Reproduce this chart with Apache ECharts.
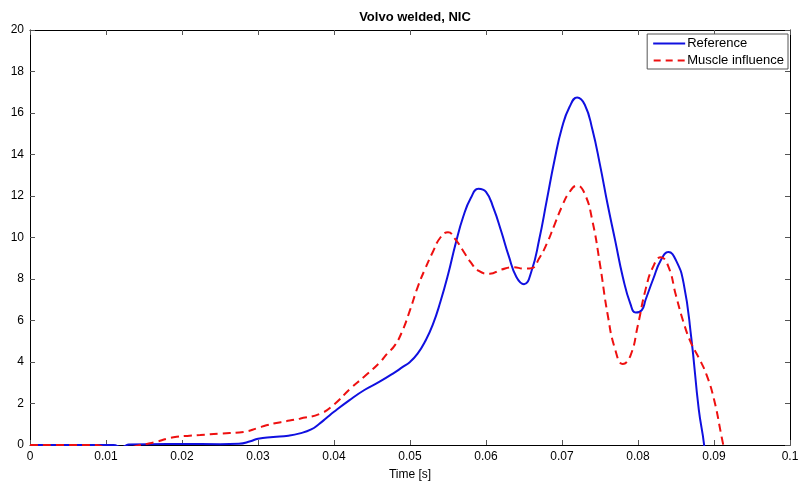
<!DOCTYPE html>
<html><head><meta charset="utf-8">
<script src="https://cdn.jsdelivr.net/npm/echarts@6/dist/echarts.min.js"></script>
<style>html,body{margin:0;padding:0;background:#fff}#c{width:802px;height:486px}</style>
</head><body><div id="c"></div>
<script>
const titleText = "Volvo welded, NIC";
const xAxisName = "Time [s]";
const seriesNames = ["Reference", "Muscle influence"];
const blueT = [0,0.005,0.011,0.012,0.0125,0.013,0.018,0.02,0.025,0.0275,0.029,0.030,0.032,0.034,0.0355,0.037,0.038,0.039,0.040,0.042,0.044,0.046,0.048,0.049,0.050,0.051,0.052,0.053,0.054,0.055,0.056,0.057,0.058,0.059,0.060,0.061,0.062,0.063,0.064,0.065,0.066,0.067,0.068,0.069,0.070,0.071,0.072,0.073,0.074,0.075,0.076,0.077,0.078,0.079,0.0797,0.0805,0.081,0.082,0.083,0.084,0.085,0.086,0.087,0.088,0.0887,0.089];
const blueV = [0,0,0,-0.1,-0.05,0.03,0.05,0.05,0.04,0.06,0.18,0.3,0.38,0.45,0.56,0.75,1.0,1.3,1.6,2.15,2.65,3.05,3.5,3.75,4.0,4.4,5.0,5.8,6.9,8.2,9.7,11.0,11.9,12.35,12.2,11.4,10.3,9.1,8.1,7.75,8.4,9.9,11.8,13.7,15.3,16.3,16.75,16.4,15.2,13.5,11.6,9.85,8.1,6.8,6.38,6.5,7.0,8.0,8.9,9.3,8.9,7.8,5.2,1.7,0,-1.5];
const redT = [0,0.005,0.0088,0.010,0.012,0.0135,0.0145,0.0155,0.0167,0.018,0.0193,0.021,0.0224,0.025,0.0281,0.030,0.0311,0.033,0.0355,0.0382,0.040,0.0421,0.044,0.046,0.047,0.048,0.049,0.050,0.051,0.052,0.053,0.054,0.055,0.056,0.057,0.058,0.059,0.0605,0.062,0.0636,0.065,0.066,0.067,0.068,0.069,0.070,0.071,0.072,0.073,0.074,0.075,0.076,0.077,0.078,0.079,0.080,0.081,0.082,0.083,0.084,0.085,0.086,0.087,0.088,0.089,0.090,0.091,0.0915];
const redV = [0,0,0,-0.15,-0.2,-0.1,0,0.06,0.16,0.3,0.4,0.45,0.48,0.55,0.63,0.82,0.95,1.1,1.27,1.51,1.95,2.7,3.3,3.97,4.4,4.8,5.5,6.5,7.6,8.5,9.3,10.0,10.25,9.9,9.35,8.8,8.4,8.25,8.45,8.57,8.5,8.52,9.0,9.7,10.6,11.5,12.2,12.5,12.1,10.8,8.7,6.3,4.6,3.9,4.3,5.8,7.5,8.6,9.05,8.6,7.2,5.9,4.9,4.2,3.4,2.2,0.4,-0.5];

const font = "Liberation Sans";
const chart = echarts.init(document.getElementById('c'), null, {renderer:'canvas'});
const axisLineStyle = {color:'#000', width:1};
const blueColor = '#1010e0', redColor = '#ee1010';
chart.setOption({
  animation:false,
  backgroundColor:'#fff',
  title:{text:titleText, left:410, textAlign:'center', top:6, textStyle:{fontFamily:font, fontSize:13, fontWeight:'bold', color:'#000'}},
  grid:{left:30, right:12, top:30, bottom:36, containLabel:false, show:false},
  legend:{
    data:[
      {name:seriesNames[0], icon:'path://M0 0H32V2H0Z'},
      {name:seriesNames[1], icon:'path://M0 0H7V2H0Z M12 0H19V2H12Z M24 0H31V2H24Z'}
    ],
    orient:'vertical', right:14, top:34,
    backgroundColor:'#fff', borderColor:'#555', borderWidth:1, padding:[3,4,2,6],
    itemWidth:32, itemHeight:2, itemGap:4,
    textStyle:{fontFamily:font, fontSize:13, color:'#000', padding:[0,0,0,-3]}
  },
  xAxis:[{
    type:'value', min:0, max:0.1, interval:0.01,
    name:xAxisName, nameLocation:'middle', nameGap:24,
    nameTextStyle:{fontFamily:font, fontSize:12, color:'#000'},
    axisLine:{show:true, onZero:false, lineStyle:axisLineStyle},
    axisTick:{show:true, inside:true, length:5, lineStyle:{color:'#555'}},
    axisLabel:{fontFamily:font, fontSize:12, color:'#000', margin:6},
    splitLine:{show:false}
  },{
    type:'value', position:'top', min:0, max:0.1, interval:0.01,
    axisLine:{show:true, onZero:false, lineStyle:axisLineStyle},
    axisTick:{show:true, inside:true, length:5, lineStyle:{color:'#555'}},
    axisLabel:{show:false}, splitLine:{show:false}
  }],
  yAxis:[{
    type:'value', min:0, max:20, interval:2,
    axisLine:{show:true, onZero:false, lineStyle:axisLineStyle},
    axisTick:{show:true, inside:true, length:5, lineStyle:{color:'#555'}},
    axisLabel:{fontFamily:font, fontSize:12, color:'#000', margin:6},
    splitLine:{show:false}
  },{
    type:'value', position:'right', min:0, max:20, interval:2,
    axisLine:{show:true, onZero:false, lineStyle:axisLineStyle},
    axisTick:{show:true, inside:true, length:5, lineStyle:{color:'#555'}},
    axisLabel:{show:false}, splitLine:{show:false}
  }],
  series:[{
    name:seriesNames[0], type:'line', showSymbol:false, symbol:'none', smooth:0.5, clip:true,
    data:blueT.map((t,i)=>[t,blueV[i]]),
    lineStyle:{color:blueColor, width:2}, itemStyle:{color:blueColor}
  },{
    name:seriesNames[1], type:'line', showSymbol:false, symbol:'none', smooth:0.5, clip:true,
    data:redT.map((t,i)=>[t,redV[i]]),
    lineStyle:{color:redColor, width:2, type:[8,5]}, itemStyle:{color:redColor}
  }]
});
</script></body></html>
